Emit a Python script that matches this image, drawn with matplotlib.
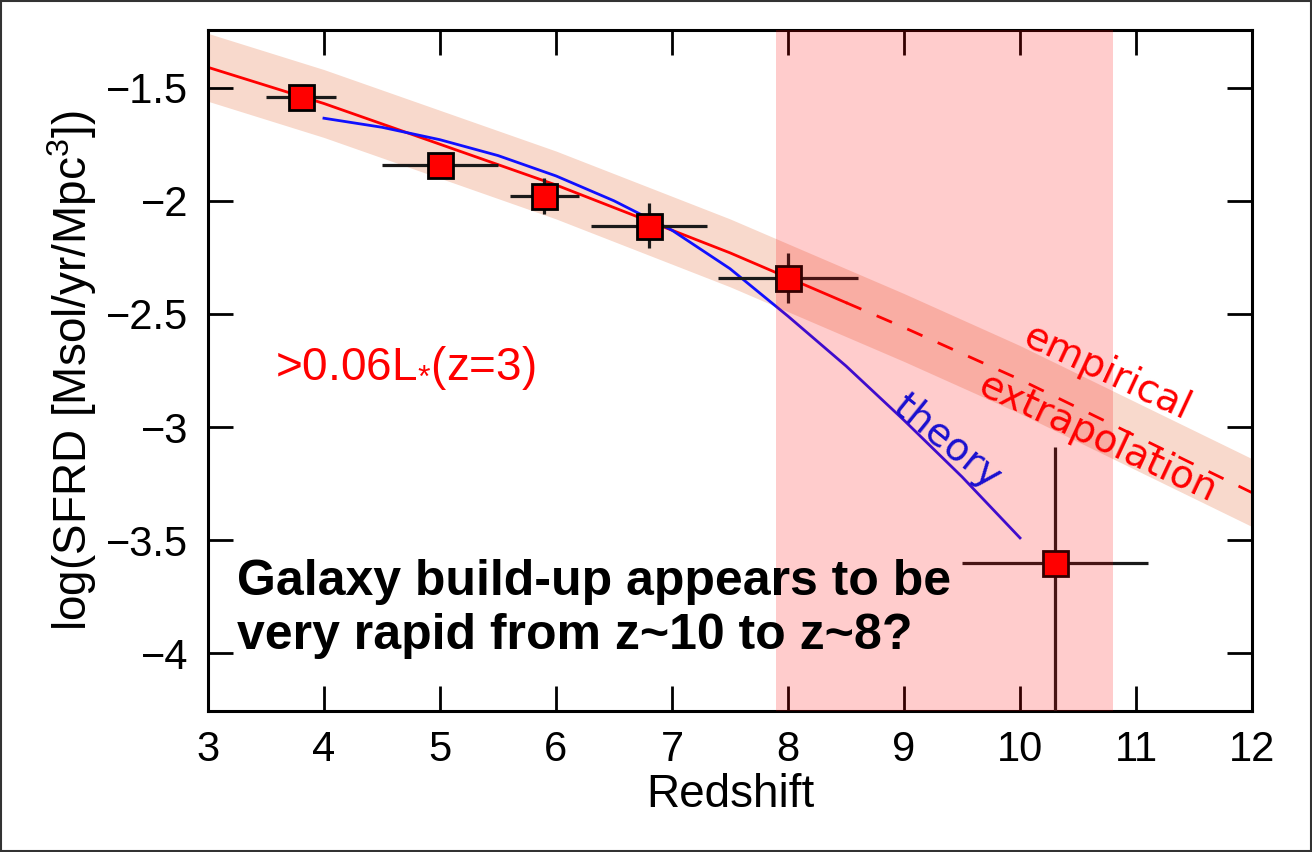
import numpy as np
from matplotlib import pyplot as plt
from matplotlib.patches import Rectangle

plt.rcParams["font.family"] = ["Liberation Sans", "DejaVu Sans"]
plt.rcParams["mathtext.fontset"] = "custom"
plt.rcParams["mathtext.rm"] = "Liberation Sans"
plt.rcParams["mathtext.it"] = "Liberation Sans:italic"

# star formation rate density measurements (log Msol/yr/Mpc^3)
z_obs = [3.8, 5.0, 5.9, 6.8, 8.0, 10.3]
sfrd_obs = [-1.54, -1.84, -1.98, -2.11, -2.34, -3.60]
z_err = [0.3, 0.5, 0.3, 0.5, 0.6, 0.8]
sfrd_err_lo = [0.04, 0.05, 0.08, 0.10, 0.11, 1.50]
sfrd_err_hi = [0.04, 0.05, 0.08, 0.10, 0.11, 0.51]

# empirical fit with its uncertainty band
z_fit = [3, 3.5, 4, 4.5, 5, 5.5, 6, 6.5, 7, 7.5, 8, 8.5, 9, 10, 11, 12]
sfrd_fit = [-1.41, -1.49, -1.57, -1.66, -1.75, -1.84, -1.93, -2.03, -2.13,
            -2.23, -2.34, -2.45, -2.56, -2.79, -3.04, -3.29]
band_hi = [-1.26, -1.34, -1.42, -1.51, -1.60, -1.69, -1.78, -1.88, -1.98,
           -2.08, -2.19, -2.30, -2.41, -2.64, -2.89, -3.14]
band_lo = [-1.56, -1.64, -1.72, -1.81, -1.90, -1.99, -2.08, -2.18, -2.28,
           -2.38, -2.49, -2.60, -2.71, -2.94, -3.19, -3.44]
n_solid = 12  # fit drawn solid up to z=8.5, dashed beyond

# theoretical prediction
z_theory = [4.0, 4.5, 5.0, 5.5, 6.0, 6.5, 7.0, 7.5, 8.0, 8.5, 9.0, 9.5, 10.0]
sfrd_theory = [-1.635, -1.675, -1.73, -1.80, -1.89, -2.00, -2.13, -2.30, -2.51, -2.73, -2.97, -3.22, -3.49]

# redshift window of interest
z_window = [7.9, 10.8]

fig = plt.figure(figsize=(13.12, 8.52), dpi=100)
ax = fig.add_axes([0.1585, 0.1655, 0.7958, 0.7993])

ax.fill_between(z_fit, band_lo, band_hi, color="#f8d9cc", lw=0, zorder=1)
ax.plot(z_fit[:n_solid], sfrd_fit[:n_solid], color="red", lw=2, zorder=2)
ax.plot(z_fit[n_solid - 1:], sfrd_fit[n_solid - 1:], color="red", lw=2,
        ls=(0, (6, 6)), zorder=2)
ax.plot(z_theory, sfrd_theory, color="#1010ff", lw=2, zorder=2)

ax.errorbar(z_obs, sfrd_obs, xerr=z_err, yerr=[sfrd_err_lo, sfrd_err_hi],
            fmt="s", ms=18, mfc="red", mec="black", mew=2,
            ecolor="#1a1a1a", elinewidth=2.3, capsize=0, zorder=3)

ax.axvspan(z_window[0], z_window[1], color="red", alpha=0.2, lw=0, zorder=4)

ax.text(4.70, -2.74, r">0.06L$_{*}$(z=3)", color="red", fontsize=33,
        ha="center", va="center", zorder=5)
ax.text(10.75, -2.76, "empirical", color="red", fontsize=28,
        family="DejaVu Sans", rotation=-25, rotation_mode="anchor",
        ha="center", va="center", zorder=5)
ax.text(10.67, -3.05, "extrapolation", color="red", fontsize=28,
        family="DejaVu Sans", rotation=-25, rotation_mode="anchor",
        ha="center", va="center", zorder=5)
ax.text(9.37, -3.065, "theory", color="#1a10d0", fontsize=28,
        family="DejaVu Sans", rotation=-39, rotation_mode="anchor",
        ha="center", va="center", zorder=5)
ax.text(3.25, -3.585, "Galaxy build-up appears to be\nvery rapid from z~10 to z~8?",
        fontsize=36, fontweight="bold", ha="left", va="top",
        linespacing=1.2, zorder=5)

ax.set_xlim(3, 12)
ax.set_ylim(-4.255, -1.245)
ax.set_xticks(np.arange(3, 13, 1))
ax.set_yticks([-4, -3.5, -3, -2.5, -2, -1.5])
ax.set_yticklabels(["\u22124", "\u22123.5", "\u22123", "\u22122.5", "\u22122", "\u22121.5"])
ax.tick_params(direction="in", length=18, width=2, labelsize=30, pad=14,
               top=True, right=True)
for s in ax.spines.values():
    s.set_linewidth(2.2)

ax.set_xlabel("Redshift", fontsize=33, labelpad=2)
ax.set_ylabel(r"log(SFRD [Msol/yr/Mpc$^{3}$])", fontsize=33, labelpad=5)

fig.patches.append(Rectangle((0.001, 0.001), 0.998, 0.998, transform=fig.transFigure,
                             fill=False, edgecolor="#333333", lw=1.5))

fig.savefig("out.png", dpi=100)
